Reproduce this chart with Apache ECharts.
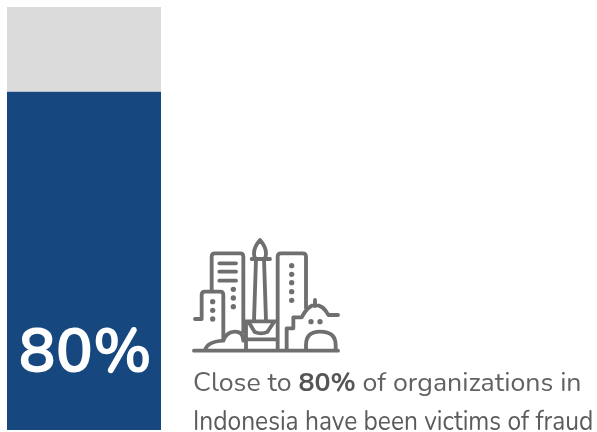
<!DOCTYPE html>
<html>
<head>
<meta charset="utf-8">
<style>html,body{margin:0;padding:0;background:#fff}#chart{width:597px;height:432px}</style>
<script src="https://cdn.jsdelivr.net/npm/echarts@6/dist/echarts.min.js"></script>
</head>
<body>
<div id="chart"></div>
<script>
const categories = ['Indonesia'];
const victims = [80];
const others = [20];
const captionFirst = ['Close to ', '80%', ' of organizations in'];
const captionSecond = 'Indonesia have been victims of fraud';

// City skyline pictogram, outlined in a 510 x 390 design box
const skyline = [
  'M42 362H474',
  'M45 267H65V195Q65 185 75 185H120Q130 185 130 195V332',
  'M95 180V80Q95 70 105 70H180Q190 70 190 80V305',
  'M118 100H168M118 125H168M118 152H168',
  'M240 30Q222 50 222 70Q222 85 230 87H250Q258 85 258 70Q258 50 240 30Z',
  'M215 87H270M228 87L222 272M252 87L258 272',
  'M198 274H293M198 274V362M198 328H293',
  'M206 276L224 306Q243 314 262 306L282 276',
  'M293 362V80Q293 70 303 70H368Q378 70 378 80V235',
  'M320 362V295H340V262H365Q385 225 405 225Q430 225 445 255H474M405 210V228',
  'M378 362V345Q378 305 420 305Q467 305 467 345V362',
  'M75 362Q80 335 130 332Q140 305 165 305Q190 305 190 332'
].join('');
const skylineBox = { x: 42, y: 30, width: 432, height: 332 };
const skylineDots = [
  [160, 178], [160, 204], [160, 230], [98, 215], [98, 241], [98, 267],
  [335, 107], [335, 133], [335, 158], [335, 185], [335, 211], [393, 275], [420, 275]
];

const chart = echarts.init(document.getElementById('chart'), null, { renderer: 'canvas' });
const ink = '#6f6f6f';
const captionFont = 'Nunito, "Noto Sans", sans-serif';

chart.setOption({
  animation: false,
  backgroundColor: '#ffffff',
  grid: { left: 7, top: 7, width: 154, height: 423 },
  xAxis: { type: 'category', data: categories, show: false },
  yAxis: { type: 'value', min: 0, max: 100, show: false },
  series: [
    {
      type: 'bar', stack: 'share', data: victims, barWidth: '100%',
      itemStyle: { color: '#16487f' },
      label: {
        show: true, position: 'insideBottom', distance: 42, offset: [1, 0],
        formatter: '{c}%', color: '#ffffff',
        fontFamily: captionFont, fontWeight: 700, fontSize: 62
      }
    },
    {
      type: 'bar', stack: 'share', data: others, barWidth: '100%',
      itemStyle: { color: '#dbdbdb' }
    },
    {
      // The pictogram needs SVG path data, which custom series elements accept
      type: 'custom', coordinateSystem: 'none', data: [0], silent: true,
      renderItem: () => ({
        type: 'group', x: 180, y: 230, scaleX: 1 / 3, scaleY: 1 / 3,
        children: [
          {
            type: 'path',
            shape: { pathData: skyline, layout: 'cover', ...skylineBox },
            style: { fill: null, stroke: ink, lineWidth: 11.5, lineCap: 'round', lineJoin: 'round' }
          },
          ...skylineDots.map(([cx, cy]) => ({
            type: 'circle', shape: { cx, cy, r: 8 }, style: { fill: ink }
          }))
        ]
      })
    }
  ],
  graphic: [
    {
      type: 'text', x: 193, y: 385,
      style: {
        text: `{a|${captionFirst[0]}}{b|${captionFirst[1]}}{a|${captionFirst[2]}}`,
        verticalAlign: 'middle',
        rich: {
          a: { fontFamily: captionFont, fontSize: 26.7, fill: '#626262' },
          b: { fontFamily: captionFont, fontSize: 26.7, fontWeight: 700, fill: '#555555' }
        }
      }
    },
    {
      type: 'text', x: 193, y: 423, scaleX: 0.87,
      style: {
        text: captionSecond, verticalAlign: 'middle',
        fontFamily: captionFont, fontSize: 28.2, fill: '#5c5c5c'
      }
    }
  ]
});
</script>
</body>
</html>
